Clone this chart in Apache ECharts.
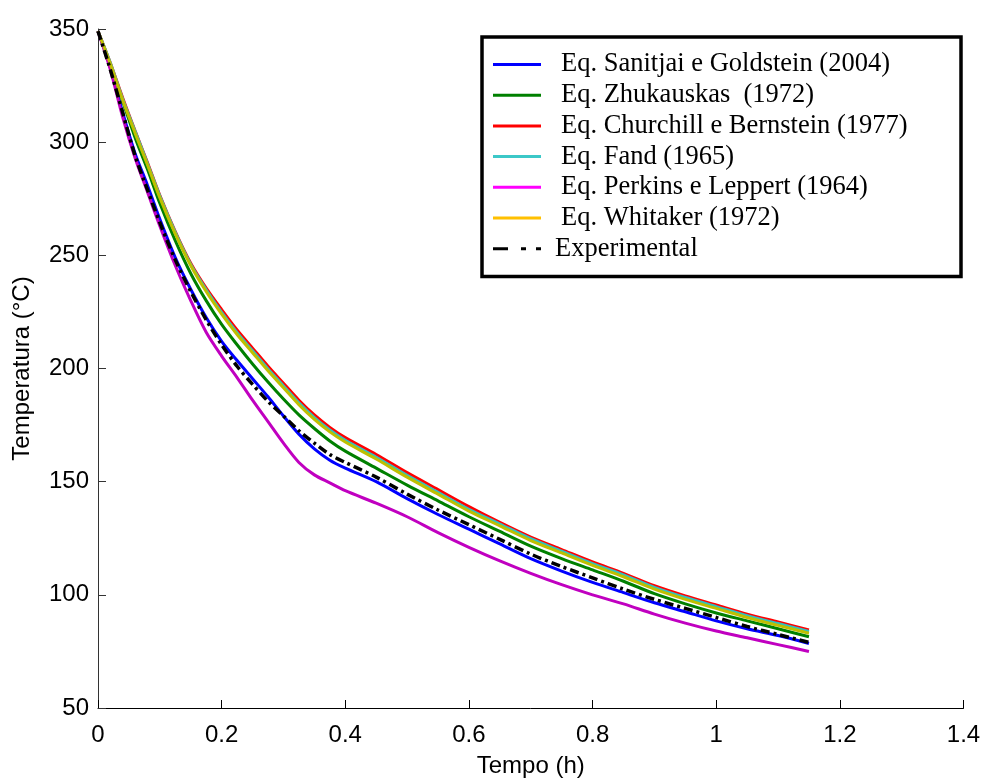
<!DOCTYPE html>
<html>
<head>
<meta charset="utf-8">
<script src="https://cdn.jsdelivr.net/npm/echarts@6/dist/echarts.min.js"></script>
<style>html,body{margin:0;padding:0;background:#fff}#c{width:984px;height:778px}</style>
</head>
<body>
<div id="c"></div>
<script>
// Tempo (h)
const tempo = [0, 0.02, 0.04, 0.06, 0.08, 0.10, 0.125, 0.15, 0.175, 0.20, 0.225, 0.25, 0.275, 0.30, 0.325, 0.35, 0.375, 0.40, 0.45, 0.50, 0.55, 0.60, 0.65, 0.70, 0.75, 0.80, 0.85, 0.90, 0.95, 1.00, 1.05, 1.10, 1.15];
// Temperatura (°C)
const sanitjai   = [349, 333, 313, 295, 281, 266, 249, 235, 222.5, 212, 203.5, 195.5, 187.5, 179, 171, 164.5, 159.5, 156, 150, 142.5, 135.5, 129, 122.5, 116, 110.5, 105.5, 101, 96.5, 92.5, 88.5, 85, 82, 78.5];
const zhukauskas = [349, 334, 318, 302, 288, 273, 256.5, 242, 230, 219.5, 210.5, 202, 194, 186.5, 179.5, 173.5, 168, 163.5, 156, 148.5, 141.5, 134.5, 128, 121.5, 116, 111, 106, 100.5, 96, 92, 88.5, 85, 81.5];
const churchill  = [349, 335, 319.5, 305, 291, 276.5, 260.5, 246.5, 235.5, 226, 217, 209, 201, 193.5, 186, 179.5, 174, 169.5, 162, 154, 146.5, 139, 132, 125.5, 120, 114.5, 109.5, 104, 99.5, 95.5, 91.5, 88, 84.5];
const fand       = [349, 335, 319, 304.8, 290.6, 276.2, 260.2, 246, 234.8, 224.8, 215.8, 207.8, 199.8, 192.3, 184.8, 178.3, 172.8, 168.3, 160.8, 152.8, 145.3, 137.8, 131.3, 124.8, 119.3, 113.8, 108.8, 103.3, 98.8, 94.8, 90.8, 87.3, 83.8];
const perkins    = [349, 332, 311, 293, 278, 263, 245.5, 230, 216, 205.5, 196, 186, 176.5, 167, 158.5, 153, 149.5, 146, 140.5, 134.5, 127.5, 121, 115, 109.5, 104.5, 100, 96, 91.5, 87.5, 84, 81, 78, 75];
const whitaker   = [349, 334.5, 318.5, 304, 290, 275.5, 259.5, 245.5, 234, 224, 215, 207, 199, 191.5, 184, 177.5, 172, 167.5, 160, 152, 144.5, 137, 130.5, 124, 118.5, 113, 108, 102.5, 98, 94, 90, 86.5, 83];
const experimental = [349, 332, 313, 294, 279, 264.5, 248, 234, 221.5, 210.5, 201, 193, 185.5, 179, 172.5, 167, 162, 158.5, 152, 144.5, 137.5, 131, 124.5, 118, 112.5, 107.5, 102.5, 98, 94, 90, 86, 82.5, 79];

const names = ['Eq. Sanitjai e Goldstein (2004)', 'Eq. Zhukauskas  (1972)', 'Eq. Churchill e Bernstein (1977)', 'Eq. Fand (1965)', 'Eq. Perkins e Leppert (1964)', 'Eq. Whitaker (1972)', 'Experimental'];
const values = [sanitjai, zhukauskas, churchill, fand, perkins, whitaker, experimental];
const lineColors = ['#0000ff', '#008000', '#ff0000', '#33bfbf', '#c000c0', '#bfbf00', '#000000'];
const legendColors = ['#0000ff', '#008000', '#ff0000', '#3cc8c8', '#ff00ff', '#ffc000', '#000000'];

const solidIcon = 'path://M0,0H48V3H0Z';
const dashDotIcon = 'path://M0,0H15V3H0Z M28,0H33V3H28Z M43,0H48V3H43Z';

const series = names.map((n, i) => ({
  name: n,
  type: 'line',
  symbol: 'none',
  smooth: 0.3,
  data: tempo.map((t, j) => [t, values[i][j]]),
  lineStyle: i === 6
    ? { color: lineColors[i], width: 3.5, type: [9, 4, 3, 4] }
    : { color: lineColors[i], width: 3 },
  itemStyle: { color: lineColors[i] },
  z: 2 + i,
  animation: false
}));

const chart = echarts.init(document.getElementById('c'), null, { renderer: 'canvas' });
chart.setOption({
  backgroundColor: '#fff',
  animation: false,
  grid: { left: 98, right: 20.5, top: 29, bottom: 70, containLabel: false, outerBoundsMode: 'none' },
  xAxis: {
    type: 'value', min: 0, max: 1.4, interval: 0.2,
    name: 'Tempo (h)', nameLocation: 'middle', nameGap: 46,
    nameTextStyle: { fontFamily: 'Liberation Sans', fontSize: 24, color: '#000' },
    axisLine: { show: true, onZero: false, lineStyle: { color: '#000', width: 1 } },
    axisTick: { show: true, inside: true, length: 8, lineStyle: { color: '#000' } },
    axisLabel: { fontFamily: 'Liberation Sans', fontSize: 24, color: '#000', margin: 15 },
    splitLine: { show: false }
  },
  yAxis: {
    type: 'value', min: 50, max: 350, interval: 50,
    name: 'Temperatura (°C)', nameLocation: 'middle', nameGap: 64,
    nameTextStyle: { fontFamily: 'Liberation Sans', fontSize: 24, color: '#000' },
    axisLine: { show: true, onZero: false, lineStyle: { color: '#333', width: 1 } },
    axisTick: { show: true, inside: true, length: 8, lineStyle: { color: '#333' } },
    axisLabel: { fontFamily: 'Liberation Sans', fontSize: 24, color: '#000', margin: 9 },
    splitLine: { show: false }
  },
  legend: {
    orient: 'vertical', left: 493, top: 49.5, padding: 0,
    itemWidth: 48, itemHeight: 3, itemGap: 0.7,
    symbolKeepAspect: false,
    textStyle: { fontFamily: 'Liberation Serif', fontSize: 26.5, color: '#000', lineHeight: 30 },
    data: names.map((n, i) => ({
      name: n,
      icon: i === 6 ? dashDotIcon : solidIcon,
      itemStyle: { color: legendColors[i] },
      textStyle: { padding: [0, 0, 0, i === 6 ? 9 : 15] }
    }))
  },
  graphic: [{
    type: 'rect',
    shape: { x: 482, y: 37, width: 479, height: 239.5 },
    style: { fill: 'none', stroke: '#000', lineWidth: 3.5 },
    z: 100
  }],
  series: series
});
</script>
</body>
</html>
